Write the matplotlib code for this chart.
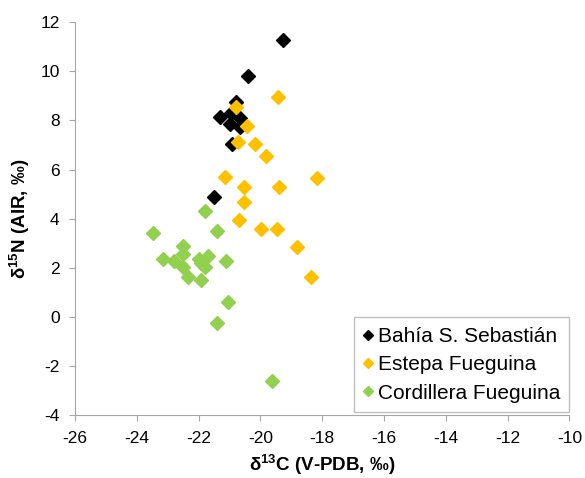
import matplotlib
matplotlib.use("Agg")
import matplotlib.pyplot as plt

plt.rcParams['font.family'] = ['Liberation Sans', 'DejaVu Sans']
plt.rcParams['mathtext.fontset'] = 'custom'
plt.rcParams['mathtext.rm'] = 'Liberation Sans'
plt.rcParams['mathtext.bf'] = 'Liberation Sans:bold'
plt.rcParams['mathtext.default'] = 'bf'
plt.rcParams['axes.unicode_minus'] = False

# Bahía S. Sebastián
bahia_c = [-19.27, -20.39, -20.78, -21.32, -20.96, -21.00, -20.66, -20.66, -20.93, -21.50]
bahia_n = [11.27, 9.81, 8.75, 8.12, 8.30, 7.85, 8.08, 7.72, 7.02, 4.87]

# Estepa Fueguina
estepa_c = [-19.43, -20.78, -20.44, -20.72, -20.17, -19.83, -21.16, -20.53, -19.39, -18.18,
            -20.53, -20.69, -19.97, -19.45, -18.81, -18.38]
estepa_n = [8.97, 8.55, 7.77, 7.11, 7.03, 6.54, 5.69, 5.31, 5.31, 5.66,
            4.70, 3.96, 3.60, 3.60, 2.87, 1.62]

# Cordillera Fueguina
cordillera_c = [-21.78, -23.48, -21.41, -22.50, -22.50, -23.15, -22.79, -22.50, -21.99, -21.70,
                -21.80, -21.91, -21.10, -22.34, -21.91, -21.06, -21.41, -19.61]
cordillera_n = [4.30, 3.40, 3.50, 2.90, 2.58, 2.38, 2.29, 2.05, 2.38, 2.48,
                2.05, 2.20, 2.29, 1.64, 1.50, 0.60, -0.22, -2.60]

fig = plt.figure(figsize=(5.85, 4.78), dpi=100)
ax = fig.add_axes([0.1282, 0.1308, 0.8453, 0.8232])

ax.plot(bahia_c, bahia_n, 'D', color='black', markersize=7.5, linestyle='none', label='Bahía S. Sebastián')
ax.plot(estepa_c, estepa_n, 'D', color='#FFC000', markersize=7.5, linestyle='none', label='Estepa Fueguina')
ax.plot(cordillera_c, cordillera_n, 'D', color='#92D050', markersize=7.5, linestyle='none', label='Cordillera Fueguina')

ax.set_xlim(-26, -10)
ax.set_ylim(-4, 12)
ax.set_xticks(range(-26, -9, 2))
ax.set_yticks(range(-4, 13, 2))
ax.spines['top'].set_visible(False)
ax.spines['right'].set_visible(False)
for s in ['left', 'bottom']:
    ax.spines[s].set_color('#a6a6a6')
ax.tick_params(direction='out', length=4, color='#a6a6a6', labelsize=12.5, pad=7)

ax.set_xlabel('δ$^{13}$C (V-PDB, ‰)', fontsize=13.5, fontweight='bold', labelpad=5)
ax.set_ylabel('δ$^{15}$N (AIR, ‰)', fontsize=13.5, fontweight='bold', labelpad=6)

leg = ax.legend(loc='lower right', bbox_to_anchor=(1.0, 0.009), borderaxespad=0, fontsize=15,
                markerscale=0.65, handlelength=0.45, handletextpad=0.25, borderpad=0.45,
                labelspacing=0.45, fancybox=False, edgecolor='#bfbfbf', framealpha=1)
leg.get_frame().set_linewidth(1)

fig.savefig('out.png', dpi=100)
